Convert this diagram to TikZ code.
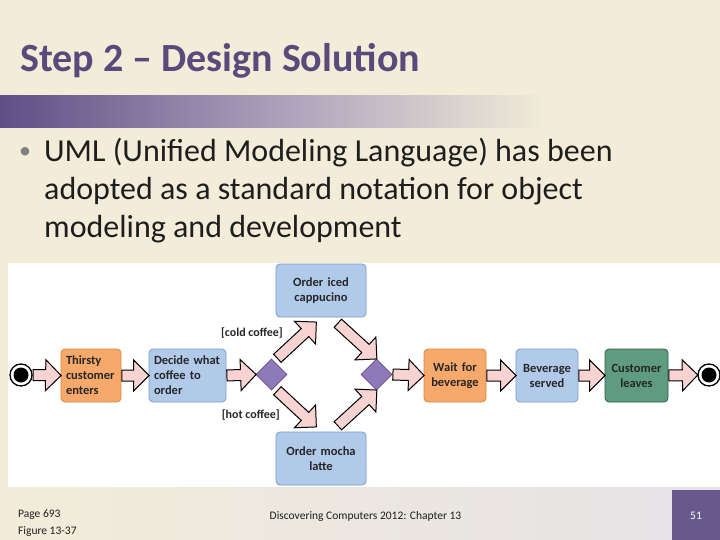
\documentclass[tikz,border=0pt]{standalone}
\usepackage{fontspec}
\setmainfont{Carlito}
\usepackage{tikz}
\usetikzlibrary{arrows,shapes,positioning,calc}

\definecolor{slidecream}{HTML}{F2ECD9}
\definecolor{footgray}{HTML}{E6E2E7}
\definecolor{bandpurple}{HTML}{5E4F86}
\definecolor{bandmid}{HTML}{ADA3BC}
\definecolor{titlepurple}{HTML}{5A4A7C}
\definecolor{numpurple}{HTML}{68598C}
\definecolor{bodytext}{HTML}{1E1E1E}
\definecolor{boxtext}{HTML}{262626}
\definecolor{actorange}{HTML}{F6A96A}
\definecolor{actorangeline}{HTML}{D8873F}
\definecolor{actblue}{HTML}{B1CAEA}
\definecolor{actblueline}{HTML}{7C9ACA}
\definecolor{actgreen}{HTML}{5E9B80}
\definecolor{actgreenline}{HTML}{2E5C48}
\definecolor{dcspurple}{HTML}{8E79B9}
\definecolor{dcsline}{HTML}{5B4A8C}
\definecolor{arrowpink}{HTML}{F8D3D2}

\pgfdeclarehorizontalshading{titleband}{100bp}{color(0bp)=(bandpurple); color(25bp)=(bandpurple); color(45bp)=(bandmid); color(63bp)=(slidecream); color(100bp)=(slidecream)}
\pgfdeclarehorizontalshading{footband}{100bp}{color(0bp)=(slidecream); color(25bp)=(slidecream); color(75bp)=(footgray); color(100bp)=(footgray)}

% block arrow from one anchor to another
\newcommand{\flowarrow}[2]{%
  \path let \p1=(#1), \p2=(#2),
    \n1={atan2(\y2-\y1,\x2-\x1)}, \n2={veclen(\x2-\x1,\y2-\y1)} in
    node[blockarr, minimum height=\n2, rotate=\n1, anchor=tail] at (\p1) {};}

\begin{document}
\begin{tikzpicture}[x=1pt, y=-1pt,
  actbox/.style={rectangle, rounded corners=4pt, draw, line width=0.8pt, minimum height=53pt, inner xsep=5pt, inner ysep=2pt, text=boxtext, font=\bfseries\fontsize{12.5}{15}\selectfont},
  orangebox/.style={actbox, fill=actorange, draw=actorangeline},
  bluebox/.style={actbox, fill=actblue, draw=actblueline},
  greenbox/.style={actbox, fill=actgreen, draw=actgreenline},
  decision/.style={diamond, aspect=1, minimum size=31pt, inner sep=0pt, fill=dcspurple, draw=dcsline, line width=0.8pt},
  startdot/.style={circle, draw, line width=1.3pt, fill=white, minimum size=22pt, inner sep=0pt, path picture={\fill[black] (path picture bounding box.center) circle (7.5pt);}},
  blockarr/.style={single arrow, draw=black, fill=arrowpink, line width=1pt, inner xsep=0pt, inner ysep=5pt, minimum width=0pt, single arrow head extend=10pt, single arrow tip angle=90},
  guard/.style={anchor=east, inner sep=0pt, text=boxtext, font=\bfseries\fontsize{12}{14}\selectfont}]
\useasboundingbox (0,0) rectangle (720,540);

% slide background
\fill[slidecream] (0,0) rectangle (720,540);
\shade[shading=titleband] (0,96) rectangle (720,128);
\shade[shading=footband] (0,487) rectangle (720,540);
\fill[numpurple] (672,490) rectangle (720,540);

\node[anchor=base west, inner sep=0pt, text=titlepurple, font=\bfseries\fontsize{40}{48}\selectfont] (title) at (20,72) {Step 2 – Design Solution};

% last line of the text sits on the given base
\node[anchor=base west, inner sep=0pt, text=gray, font=\fontsize{24}{28}\selectfont] (dot) at (19,159) {•};
\node[anchor=base west, inner sep=0pt, text=bodytext, font=\fontsize{32}{38}\selectfont, align=left] (bullet) at (44,237) {UML (Unified Modeling Language) has been\\adopted as a standard notation for object\\modeling and development};

% figure
\fill[white] (8,263) rectangle (720,487);

\node[startdot] (start) at (21,375) {};
\node[orangebox, text width=50pt, align=left] (thirsty) at (91,375.5) {Thirsty\\customer\\enters};
\node[bluebox, text width=67pt, align=left] (decide) at (187.5,375.5) {Decide what\\coffee to\\order};
\node[decision] (dcs1) at (271.5,374.5) {};
\node[bluebox, text width=80pt, align=center] (iced) at (321,290.5) {Order iced\\cappucino};
\node[bluebox, text width=80pt, align=center] (mocha) at (321,458.5) {Order mocha\\latte};
\node[decision] (dcs2) at (376.5,374.5) {};
\node[orangebox, text width=52pt, align=center] (wait) at (455,375.5) {Wait for\\beverage};
\node[bluebox, text width=52pt, align=center] (served) at (547,375.5) {Beverage\\served};
\node[greenbox, text width=53pt, align=center] (leaves) at (636.5,375.5) {Customer\\leaves};
\node[startdot] (finish) at (709,375) {};

\node[guard] (cold) at (283,333) {[cold coffee]};
\node[guard] (hot) at (280,415) {[hot coffee]};

\flowarrow{start.east}{thirsty.west}
\flowarrow{thirsty.east}{decide.west}
\flowarrow{decide.east}{dcs1.west}
\flowarrow{$(dcs1.north)+(5.5,0)$}{$(iced.south)+(-5,5)$}
\flowarrow{$(dcs1.south)+(5.5,0)$}{$(mocha.north)+(-5,-5)$}
\flowarrow{$(iced.south)+(16.5,5.5)$}{dcs2.north}
\flowarrow{$(mocha.north)+(16.5,-5.5)$}{dcs2.south}
\flowarrow{dcs2.east}{wait.west}
\flowarrow{wait.east}{served.west}
\flowarrow{served.east}{leaves.west}
\flowarrow{leaves.east}{finish.west}

% footer
\node[anchor=base west, inner sep=0pt, text=bodytext, font=\fontsize{11.5}{17}\selectfont, align=left] (page) at (18,534) {Page 693\\Figure 13-37};
\node[anchor=base, inner sep=0pt, text=bodytext, font=\fontsize{11.5}{13}\selectfont] (chapter) at (365.5,519) {Discovering Computers 2012: Chapter 13};
\node[anchor=base, inner sep=0pt, text=white, font=\fontsize{11.5}{13}\selectfont] (slideno) at (696,519) {51};
\end{tikzpicture}
\end{document}
